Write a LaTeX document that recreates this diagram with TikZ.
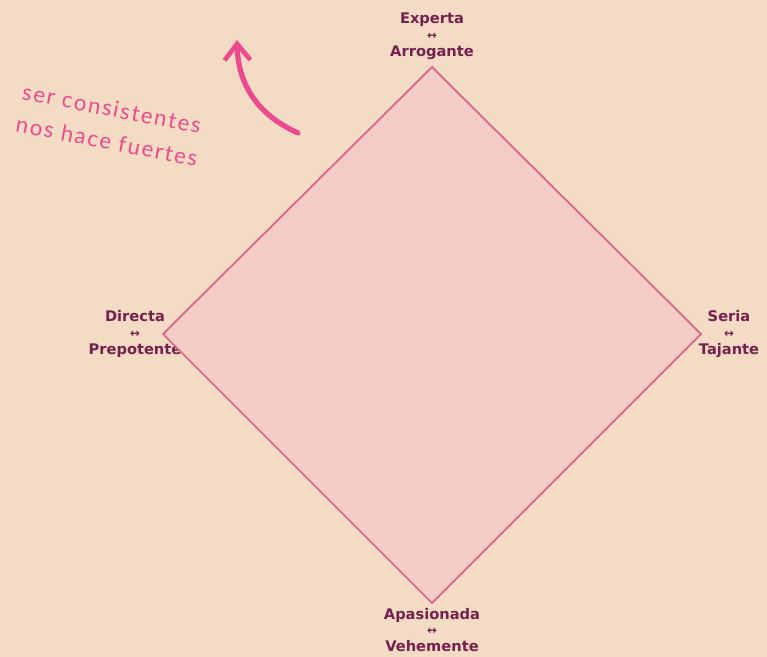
\documentclass[tikz,border=0pt]{standalone}
\usepackage{fontspec}
\setsansfont{DejaVu Sans}
\newfontfamily\handfont[LetterSpace=8]{Lato}
\usetikzlibrary{arrows.meta}

\definecolor{bgsand}{HTML}{F3DCC3}
\definecolor{rosefill}{HTML}{F3CCC3}
\definecolor{roseline}{HTML}{D9648C}
\definecolor{plum}{HTML}{76204F}
\definecolor{hotpink}{HTML}{EC4A8F}

\tikzset{
  axislabel/.style={align=center, text=plum, font=\sffamily\bfseries\fontsize{12.5}{14.5}\selectfont, inner sep=1pt},
  axistick/.style={draw=black!20, line width=0.5pt},
  note/.style={text=hotpink, align=left, font=\handfont\fontsize{19}{28}\selectfont}
}

\newcommand{\twoway}[2]{#1\\[-1pt]{\fontsize{10}{10}\selectfont ↔}\\#2}

\begin{document}
\begin{tikzpicture}[x=0.03cm, y=-0.03cm]
  \fill[bgsand] (0,0) rectangle (767,657);
  \useasboundingbox (0,0) rectangle (767,657);

  \coordinate (vtop) at (432,67);
  \coordinate (vright) at (701,334);
  \coordinate (vbottom) at (432,603);
  \coordinate (vleft) at (163,334);

  \node[axislabel] (ltop) at (432,36) {\twoway{Experta}{Arrogante}};
  \node[axislabel] (lright) at (729,334) {\twoway{Seria}{Tajante}};
  \node[axislabel] (lbottom) at (432,630) {\twoway{Apasionada}{Vehemente}};
  \node[axislabel] (lleft) at (135,334) {\twoway{Directa}{Prepotente}};

  \draw[axistick] (vleft) -- (lleft);
  \draw[axistick] (vright) -- (lright);

  \draw[fill=rosefill, draw=roseline, line width=1.5pt, line join=miter]
    (vtop) -- (vright) -- (vbottom) -- (vleft) -- cycle;

  % note and arrow
  \node[note, rotate=-11] (motto) at (110,125) {ser consistentes\\nos hace fuertes};
  \coordinate (tail) at (298,133);
  \coordinate (head) at (237,40);
  \draw[hotpink, line width=4.5pt, line cap=round,
        -{Straight Barb[length=14pt, width=22pt, line width=4pt]}]
    (tail) .. controls (258,115) and (238,85) .. (head);
\end{tikzpicture}
\end{document}
